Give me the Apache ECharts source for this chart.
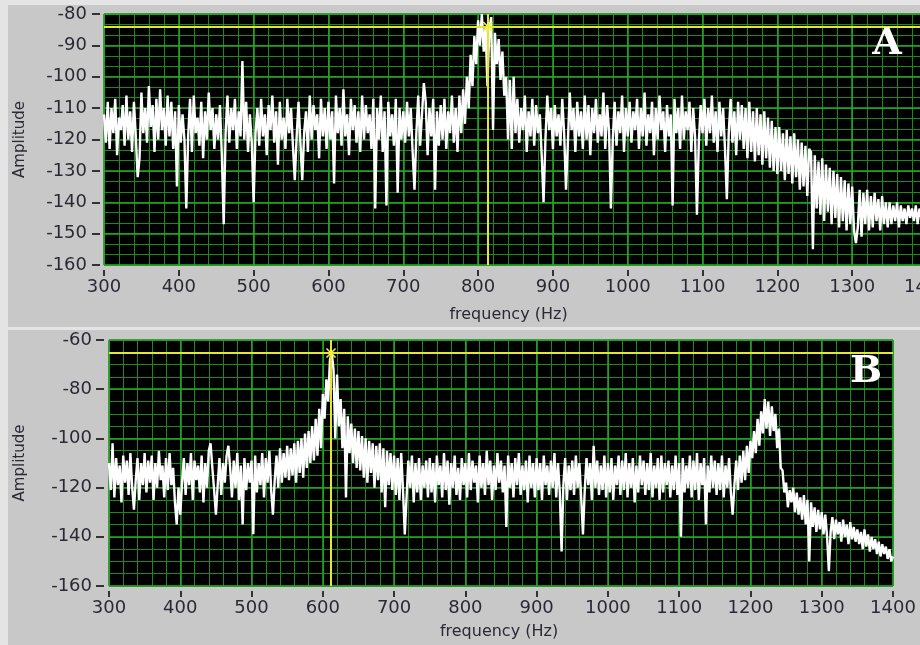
<!DOCTYPE html>
<html><head><meta charset="utf-8">
<script src="https://cdn.jsdelivr.net/npm/echarts@6/dist/echarts.min.js"></script>
<style>html,body{margin:0;padding:0;background:#e4e4e4}#c{width:920px;height:645px}</style>
</head><body><div id="c"></div>
<script>
// Sample grid of both spectra: 300 Hz to 1400 Hz, one reading every 2.5 Hz
const freqStart = 300;
const freqStep = 2.5;

// Panel A amplitude readings (dB), rows of 50 Hz
const ampA = [
-112,-121,-108,-123,-110,-118,-107,-125,-113,-117,-109,-122,-106,-120,-111,-124,-108,-119,-132,-126,
-105,-118,-110,-121,-103,-116,-109,-124,-107,-120,-104,-117,-110,-122,-106,-119,-108,-123,-111,-135,
-109,-121,-112,-120,-142,-119,-107,-124,-106,-118,-113,-122,-108,-126,-111,-120,-105,-117,-110,-123,
-112,-120,-109,-125,-147,-118,-106,-121,-110,-117,-107,-123,-111,-119,-95,-120,-108,-124,-112,-121,
-140,-118,-110,-122,-107,-119,-112,-125,-109,-117,-106,-121,-111,-128,-108,-120,-113,-123,-107,-118,
-110,-122,-133,-119,-108,-121,-133,-118,-111,-124,-106,-120,-109,-117,-112,-126,-107,-119,-110,-123,
-108,-120,-111,-134,-106,-118,-110,-122,-104,-119,-112,-125,-107,-117,-109,-121,-111,-124,-106,-120,
-109,-118,-112,-123,-107,-142,-110,-120,-106,-124,-111,-141,-108,-119,-112,-122,-107,-137,-110,-120,
-111,-121,-108,-119,-110,-124,-136,-118,-106,-122,-112,-102,-108,-125,-110,-119,-107,-136,-111,-122,
-109,-120,-107,-123,-111,-118,-106,-121,-110,-124,-106,-118,-104,-115,-100,-110,-93,-103,-87,-96,
-82,-90,-80,-92,-84,-103,-85,-81,-117,-86,-96,-88,-101,-92,-106,-100,-120,-101,-123,-100,
-118,-107,-121,-110,-117,-106,-124,-111,-119,-107,-122,-109,-118,-112,-125,-140,-120,-106,-117,-110,
-123,-109,-119,-112,-122,-107,-118,-136,-121,-105,-117,-110,-124,-108,-119,-111,-123,-106,-120,-109,
-125,-110,-118,-107,-121,-112,-119,-105,-123,-109,-117,-142,-120,-108,-122,-111,-118,-106,-124,-110,
-119,-108,-121,-111,-117,-107,-123,-110,-119,-105,-122,-112,-118,-108,-125,-110,-120,-106,-117,-111,
-124,-109,-119,-112,-141,-107,-118,-110,-123,-106,-120,-111,-117,-108,-124,-110,-119,-144,-121,-109,
-118,-107,-122,-110,-118,-106,-121,-111,-124,-108,-119,-110,-123,-139,-118,-107,-121,-111,-125,-108,
-120,-109,-123,-110,-126,-108,-124,-111,-127,-110,-125,-112,-128,-111,-126,-113,-129,-114,-130,-116,
-131,-116,-130,-118,-133,-117,-131,-119,-134,-118,-132,-120,-136,-121,-135,-122,-138,-123,-124,-155,
-125,-142,-127,-144,-126,-146,-128,-143,-129,-147,-130,-145,-131,-148,-132,-146,-133,-149,-134,-147,
-135,-149,-153,-148,-136,-151,-137,-147,-136,-149,-138,-148,-137,-146,-139,-149,-138,-147,-140,-148,
-140,-147,-141,-146,-140,-148,-141,-146,-142,-147,-141,-145,-142,-146,-141,-147,-142,-145,-143,-146,
-144
];

// Panel B amplitude readings (dB), rows of 50 Hz
const ampB = [
-110,-121,-102,-124,-108,-119,-111,-126,-107,-118,-109,-123,-106,-120,-129,-117,-108,-125,-110,-119,
-106,-122,-109,-118,-107,-125,-110,-120,-105,-117,-111,-124,-108,-121,-106,-119,-112,-126,-135,-120,
-131,-118,-108,-123,-110,-119,-106,-125,-109,-117,-111,-122,-107,-126,-110,-120,-105,-102,-112,-121,
-131,-119,-108,-123,-110,-118,-107,-103,-112,-124,-109,-120,-106,-125,-111,-135,-108,-121,-110,-118,
-109,-139,-107,-122,-110,-119,-106,-124,-108,-118,-105,-121,-131,-117,-107,-120,-104,-118,-106,-116,
-103,-117,-104,-115,-102,-118,-101,-114,-100,-116,-98,-112,-97,-110,-95,-109,-92,-107,-88,-104,
-82,-92,-76,-85,-68,-65,-72,-100,-74,-95,-84,-104,-88,-124,-91,-106,-94,-110,-96,-112,
-97,-113,-99,-116,-100,-118,-101,-114,-102,-120,-103,-117,-102,-122,-104,-128,-105,-119,-106,-121,
-107,-123,-108,-125,-106,-121,-139,-124,-109,-120,-107,-126,-110,-122,-108,-125,-111,-120,-109,-124,
-108,-122,-110,-126,-107,-119,-111,-124,-106,-121,-109,-127,-110,-120,-107,-123,-112,-125,-108,-119,
-110,-124,-106,-121,-109,-118,-111,-126,-107,-120,-110,-123,-105,-119,-109,-125,-111,-121,-106,-118,
-109,-122,-111,-136,-107,-120,-110,-124,-108,-119,-106,-123,-111,-121,-109,-126,-107,-120,-110,-124,
-108,-121,-110,-125,-107,-119,-111,-123,-109,-120,-106,-124,-110,-122,-146,-119,-108,-125,-111,-121,
-109,-123,-107,-120,-110,-124,-139,-121,-108,-119,-110,-125,-103,-120,-109,-123,-111,-121,-107,-124,
-110,-122,-108,-125,-111,-119,-107,-123,-109,-121,-106,-124,-110,-120,-108,-126,-111,-122,-107,-119,
-109,-123,-110,-121,-106,-124,-111,-120,-108,-125,-107,-122,-110,-119,-109,-124,-111,-121,-107,-123,
-110,-140,-108,-122,-111,-120,-107,-124,-109,-121,-106,-125,-110,-119,-108,-135,-111,-122,-107,-120,
-109,-123,-110,-121,-107,-124,-111,-120,-108,-122,-131,-119,-109,-121,-107,-118,-105,-117,-103,-114,
-101,-108,-97,-106,-92,-103,-89,-98,-84,-96,-85,-99,-87,-97,-90,-104,-96,-112,-113,-122,
-118,-128,-121,-126,-120,-130,-122,-131,-124,-133,-123,-135,-125,-150,-126,-136,-128,-138,-129,-137,
-130,-139,-131,-140,-154,-138,-132,-141,-133,-139,-134,-142,-133,-140,-135,-143,-134,-141,-136,-142,
-137,-143,-138,-145,-137,-144,-139,-146,-140,-145,-141,-147,-142,-148,-143,-147,-144,-149,-145,-150,
-148
];

// Cursor positions [frequency, amplitude]
const cursorA = [813, -84];
const cursorB = [611.5, -65.3];
const panelLabels = ['A', 'B'];
const xName = 'frequency (Hz)';
const yName = 'Amplitude';

// axis ranges / grid steps
const freqRange = [300, 1400];
const freqMajor = 100, freqMinor = 20;
const ampRangeA = [-160, -80], ampMajorA = 10, ampMinorA = 10 / 3;
const ampRangeB = [-160, -60], ampMajorB = 20, ampMinorB = 5;

function toPairs(arr) { return arr.map((v, i) => [freqStart + i * freqStep, v]); }

const txtColor = '#2a2a36';
function labelFont(margin) {
  return { margin: margin, fontFamily: 'DejaVu Sans', fontSize: 18, color: txtColor, formatter: v => String(v), hideOverlap: false };
}
const majorColor = 'rgb(36,168,36)';
const minorColor = 'rgb(26,138,26)';

function xAxisCfg(gi, nameGap, pad) {
  return {
    type: 'value', gridIndex: gi, min: freqRange[0], max: freqRange[1], interval: freqMajor, offset: 5, z: 1,
    axisLine: { show: false, onZero: false },
    axisTick: { show: true, length: 6, lineStyle: { color: '#333', width: 2 } },
    axisLabel: labelFont(8),
    splitLine: { show: true, lineStyle: { color: majorColor, width: 1.5 } },
    name: xName, nameLocation: 'middle', nameGap: nameGap,
    nameTextStyle: { fontFamily: 'DejaVu Sans', fontSize: 16, color: txtColor, padding: pad }
  };
}
function yAxisCfg(gi, range, interval, offset, margin, nameGap) {
  return {
    type: 'value', gridIndex: gi, min: range[0], max: range[1], interval: interval, offset: offset, z: 1,
    axisLine: { show: false, onZero: false },
    axisTick: { show: true, length: 8, lineStyle: { color: '#333', width: 2 } },
    axisLabel: labelFont(margin),
    splitLine: { show: true, lineStyle: { color: majorColor, width: 1.5 } },
    name: yName, nameLocation: 'middle', nameGap: nameGap,
    nameTextStyle: { fontFamily: 'DejaVu Sans', fontSize: 15, color: txtColor }
  };
}
function minorAxis(gi, range, interval) {
  return {
    type: 'value', gridIndex: gi, min: range[0], max: range[1], interval: interval, z: 0,
    axisLine: { show: false, onZero: false }, axisTick: { show: false }, axisLabel: { show: false },
    splitLine: { show: true, lineStyle: { color: minorColor, width: 1 } }
  };
}
function cursor(c) {
  return {
    markLine: {
      silent: true, symbol: 'none', animation: false, label: { show: false },
      lineStyle: { color: '#e6e62a', width: 2, type: 'solid' },
      data: [{ xAxis: c[0] }, { yAxis: c[1] }]
    },
    markPoint: {
      silent: true, animation: false,
      symbol: 'path://M0,0L10,10M10,0L0,10M5,0L5,10', symbolSize: 9,
      itemStyle: { color: 'rgba(0,0,0,0)', borderColor: '#f2f24a', borderWidth: 1.5 },
      label: { show: false },
      data: [{ coord: c }]
    }
  };
}

const chart = echarts.init(document.getElementById('c'));
chart.setOption({
  animation: false,
  backgroundColor: 'transparent',
  graphic: [
    { type: 'rect', z: -100, silent: true, shape: { x: 8, y: 5, width: 912, height: 322 }, style: { fill: '#c8c8c8' } },
    { type: 'rect', z: -100, silent: true, shape: { x: 8, y: 330, width: 912, height: 315 }, style: { fill: '#c8c8c8' } },
    { type: 'text', z: 100, x: 887, y: 44, style: { text: panelLabels[0], fill: '#ffffff', font: 'bold 38px "DejaVu Serif"', textAlign: 'center', textVerticalAlign: 'middle', align: 'center', verticalAlign: 'middle' } },
    { type: 'text', z: 100, x: 866, y: 372, style: { text: panelLabels[1], fill: '#ffffff', font: 'bold 38px "DejaVu Serif"', textAlign: 'center', textVerticalAlign: 'middle', align: 'center', verticalAlign: 'middle' } }
  ],
  grid: [
    { left: 104, top: 14, width: 823, height: 251, outerBoundsMode: 'none', containLabel: false, show: true, backgroundColor: '#000', borderColor: '#3a3a3a', borderWidth: 1 },
    { left: 109, top: 340, width: 784, height: 246, outerBoundsMode: 'none', containLabel: false, show: true, backgroundColor: '#000', borderColor: '#3a3a3a', borderWidth: 1 }
  ],
  xAxis: [
    xAxisCfg(0, 37, [0, 14, 0, 0]), xAxisCfg(1, 33, [0, 4, 0, 0]),
    minorAxis(0, freqRange, freqMinor), minorAxis(1, freqRange, freqMinor)
  ],
  yAxis: [
    yAxisCfg(0, ampRangeA, ampMajorA, 4, 13, 72),
    yAxisCfg(1, ampRangeB, ampMajorB, 5, 12, 76),
    minorAxis(0, ampRangeA, ampMinorA), minorAxis(1, ampRangeB, ampMinorB)
  ],
  series: [
    Object.assign({
      type: 'line', xAxisIndex: 0, yAxisIndex: 0, data: toPairs(ampA), z: 3,
      showSymbol: false, symbol: 'none', silent: true, clip: true,
      lineStyle: { color: '#ffffff', width: 2.4 }
    }, cursor(cursorA)),
    Object.assign({
      type: 'line', xAxisIndex: 1, yAxisIndex: 1, data: toPairs(ampB), z: 3,
      showSymbol: false, symbol: 'none', silent: true, clip: true,
      lineStyle: { color: '#ffffff', width: 2.4 }
    }, cursor(cursorB))
  ]
});
</script></body></html>
